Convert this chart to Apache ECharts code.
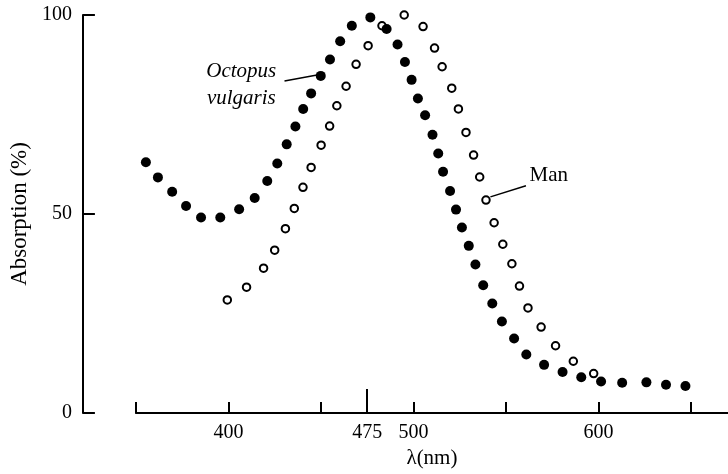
<!DOCTYPE html>
<html>
<head>
<meta charset="utf-8">
<script src="https://cdn.jsdelivr.net/npm/echarts@6/dist/echarts.min.js"></script>
<style>
html,body{margin:0;padding:0;background:#fff;}
#c{width:728px;height:474px;}
</style>
</head>
<body>
<div id="c"></div>
<script>
// ---- data ----
const octopusNm = [355.4, 361.9, 369.6, 377.1, 385.2, 395.6, 405.8, 414.2, 421.0, 426.4, 431.5, 436.2, 440.4, 444.7, 449.9, 454.9, 460.4, 466.7, 476.7, 485.5, 491.4, 495.4, 499.0, 502.4, 506.3, 510.3, 513.4, 516.0, 519.8, 523.0, 526.2, 529.9, 533.5, 537.7, 542.6, 547.8, 554.4, 561.0, 570.6, 580.6, 590.7, 601.4, 612.8, 625.9, 636.5, 647.0];
const octopusAbs = [63.0, 59.2, 55.6, 52.0, 49.1, 49.1, 51.2, 54.0, 58.3, 62.7, 67.5, 72.0, 76.4, 80.3, 84.7, 88.8, 93.4, 97.3, 99.4, 96.5, 92.6, 88.2, 83.7, 79.0, 74.8, 69.9, 65.2, 60.6, 55.8, 51.1, 46.6, 42.0, 37.3, 32.1, 27.5, 23.0, 18.7, 14.7, 12.1, 10.3, 9.0, 7.9, 7.6, 7.7, 7.1, 6.8];
const manNm = [399.4, 409.8, 419.0, 425.0, 430.8, 435.6, 440.3, 444.7, 450.1, 454.7, 458.6, 463.6, 469.0, 475.5, 483.0, 495.0, 505.2, 511.4, 515.5, 520.7, 524.3, 528.4, 532.5, 535.8, 539.2, 543.6, 548.3, 553.2, 557.3, 561.9, 569.0, 576.8, 586.4, 597.4];
const manAbs = [28.4, 31.6, 36.4, 40.9, 46.3, 51.4, 56.7, 61.7, 67.3, 72.1, 77.2, 82.1, 87.6, 92.3, 97.3, 100.0, 97.1, 91.7, 87.0, 81.6, 76.4, 70.5, 64.8, 59.3, 53.5, 47.8, 42.4, 37.5, 31.9, 26.4, 21.6, 16.9, 13.0, 9.9];
const xTicks = [350, 400, 450, 500, 550, 600, 650];
const xLabels = [400, 475, 500, 600];
const xLongTick = [475];
const yTicks = [0, 50, 100];
const xTitle = 'λ(nm)';
const yTitle = 'Absorption (%)';
// annotation anchors in data space
const octopusLeader = [[430.3, 83.4], [447.9, 84.9]];
const manLeader = [[541.6, 54.3], [560.8, 57.1]];
const octopusText1At = [388.0, 85.9];
const octopusText2At = [388.4, 78.9];
const manTextAt = [562.7, 59.6];

const FONT = '"Liberation Serif", "DejaVu Serif", serif';
const octopusData = octopusNm.map((x, i) => [x, octopusAbs[i]]);
const manData = manNm.map((x, i) => [x, manAbs[i]]);

const chart = echarts.init(document.getElementById('c'), null, {renderer: 'canvas'});
const axisLine = {show: true, lineStyle: {color: '#000', width: 2}};
const option = {
  animation: false,
  backgroundColor: '#fff',
  grid: {left: 130, right: 0, top: 15, bottom: 56, containLabel: false},
  xAxis: [{
    type: 'value', min: 350, max: 670, position: 'bottom',
    axisLine: axisLine,
    axisTick: {show: true, inside: true, length: 11, customValues: xTicks, lineStyle: {color: '#000', width: 2}},
    axisLabel: {show: true, customValues: xLabels, margin: 10, color: '#000', fontSize: 20, fontFamily: FONT},
    splitLine: {show: false},
    name: xTitle, nameLocation: 'middle', nameGap: 35,
    nameTextStyle: {color: '#000', fontSize: 21, fontFamily: FONT}
  }, {
    type: 'value', min: 350, max: 670, position: 'bottom',
    axisLine: {show: false},
    axisTick: {show: true, inside: true, length: 24, customValues: xLongTick, lineStyle: {color: '#000', width: 2}},
    axisLabel: {show: false},
    splitLine: {show: false}
  }],
  yAxis: {
    type: 'value', min: 0, max: 100, interval: 50, offset: 53,
    axisLine: axisLine,
    axisTick: {show: true, inside: true, length: 12, customValues: yTicks, lineStyle: {color: '#000', width: 2}},
    axisLabel: {margin: 11, color: '#000', fontSize: 20, fontFamily: FONT},
    splitLine: {show: false},
    name: yTitle, nameLocation: 'middle', nameGap: 44, nameRotate: 90,
    nameTextStyle: {color: '#000', fontSize: 23, fontFamily: FONT}
  },
  series: [{
    name: 'Man', type: 'scatter', data: manData, symbol: 'circle', symbolSize: 7.5,
    itemStyle: {color: '#fff', borderColor: '#000', borderWidth: 2, opacity: 1},
    markLine: {
      silent: true, symbol: ['none', 'none'], label: {show: false},
      lineStyle: {color: '#000', width: 1.5, type: 'solid'},
      data: [[{coord: manLeader[0]}, {coord: manLeader[1]}]]
    },
    z: 2
  }, {
    name: 'Octopus vulgaris', type: 'scatter', data: octopusData, symbol: 'circle', symbolSize: 10,
    itemStyle: {color: '#000', opacity: 1},
    markLine: {
      silent: true, symbol: ['none', 'none'], label: {show: false},
      lineStyle: {color: '#000', width: 1.5, type: 'solid'},
      data: [[{coord: octopusLeader[0]}, {coord: octopusLeader[1]}]]
    },
    z: 3
  }]
};
chart.setOption(option);

const p1 = chart.convertToPixel({seriesIndex: 0}, octopusText1At);
const p2 = chart.convertToPixel({seriesIndex: 0}, octopusText2At);
const p3 = chart.convertToPixel({seriesIndex: 0}, manTextAt);
const textStyle = (txt, italic) => ({
  text: txt, fill: '#000', font: (italic ? 'italic ' : '') + '21px ' + FONT,
  verticalAlign: 'middle', align: 'left'
});
chart.setOption({
  graphic: [
    {type: 'text', x: p1[0], y: p1[1], style: textStyle('Octopus', true), silent: true},
    {type: 'text', x: p2[0], y: p2[1], style: textStyle('vulgaris', true), silent: true},
    {type: 'text', x: p3[0], y: p3[1], style: textStyle('Man', false), silent: true}
  ]
});
</script>
</body>
</html>
